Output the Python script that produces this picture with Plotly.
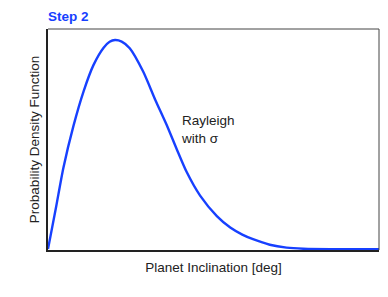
import plotly.graph_objects as go

# Curve values (x in units of sigma, y normalised to frame height)
inclination = [0.0, 0.12, 0.23, 0.38, 0.53, 0.68, 0.83, 0.92, 1.0, 1.1, 1.22, 1.42, 1.60, 1.77,
               1.92, 2.07, 2.27, 2.52, 2.72, 2.9, 3.06, 3.31, 3.56, 3.81, 4.3, 4.94]
pdf_values = [0.0, 0.19, 0.37, 0.56, 0.716, 0.837, 0.915, 0.942, 0.95, 0.943, 0.913, 0.807, 0.679,
              0.565, 0.455, 0.35, 0.243, 0.15, 0.098, 0.066, 0.045, 0.02, 0.007, 0.002, 0.0, 0.0]

title_text = "Step 2"
x_label = "Planet Inclination [deg]"
y_label = "Probability Density Function"
note_text = "Rayleigh<br>with σ"

BLUE = "#1740ff"
FONT = "Liberation Sans, Arial, Helvetica, sans-serif"

fig = go.Figure()
fig.add_trace(go.Scatter(
    x=inclination, y=pdf_values, mode="lines",
    line=dict(color=BLUE, width=2.4, shape="spline", smoothing=0.7),
    hoverinfo="skip", showlegend=False,
))

fig.update_layout(
    width=388, height=297,
    margin=dict(l=48, r=9, t=29, b=47),
    paper_bgcolor="white", plot_bgcolor="white",
    font=dict(family=FONT, size=13.5, color="#222"),
    title=dict(text="<b>" + title_text + "</b>", font=dict(color=BLUE, size=13.5, family=FONT),
               xref="paper", x=0, xanchor="left", yref="container", y=1 - 16 / 297, yanchor="middle"),
    showlegend=False,
)
fig.update_xaxes(range=[0, 4.94], showticklabels=False, ticks="", showgrid=False, zeroline=False,
                 showline=True, linecolor="#222", linewidth=2, automargin=False,
                 title=dict(text=x_label, standoff=12, font=dict(size=13.5, color="#222")))
fig.update_yaxes(range=[-0.004, 1.0], showticklabels=False, ticks="", showgrid=False, zeroline=False,
                 showline=True, linecolor="#222", linewidth=2, automargin=False,
                 title=dict(text=y_label, standoff=3, font=dict(size=13.5, color="#222")))
# thin grey top and right frame edges
fig.add_shape(type="line", xref="paper", yref="paper", x0=0, x1=1, y0=1, y1=1,
              line=dict(color="#444", width=1), layer="above")
fig.add_shape(type="line", xref="paper", yref="paper", x0=1, x1=1, y0=0, y1=1,
              line=dict(color="#444", width=1), layer="above")
fig.add_annotation(text=note_text, xref="x", yref="y", x=1.96, y=0.545, xanchor="left", yanchor="middle",
                   showarrow=False, align="left", font=dict(size=13.5, color="#222"))

fig.write_html("out.html", config={"displayModeBar": False},
               post_script="document.body.style.margin='0px';")
